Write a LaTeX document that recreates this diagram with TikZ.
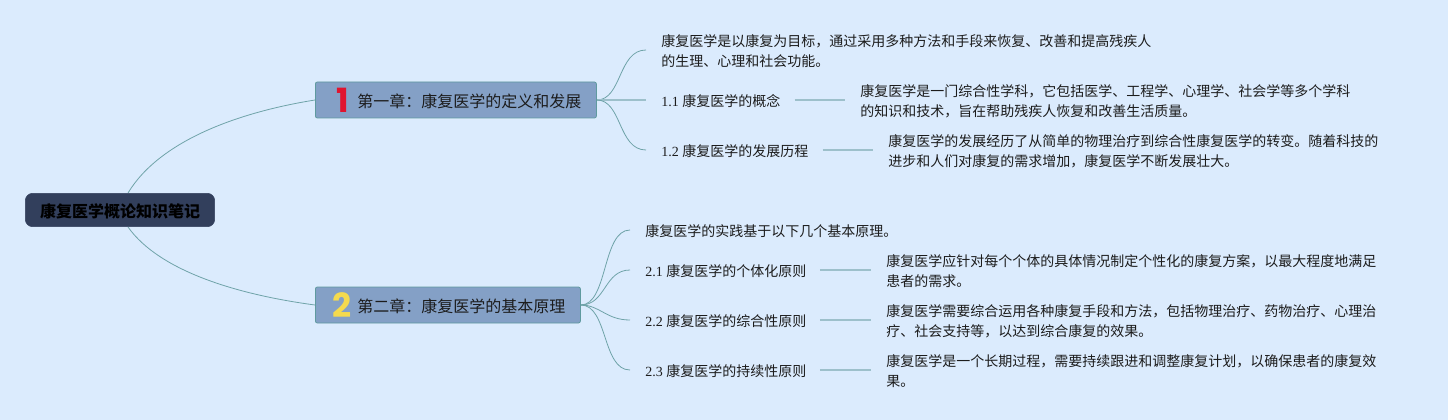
\documentclass[tikz,border=0pt]{standalone}
\usepackage{fontspec}
\setmainfont{Liberation Serif}
\newfontfamily\cj{Noto Sans CJK SC}
\newfontfamily\numfont{Poppins}
\definecolor{bgc}{HTML}{DBEBFD}
\definecolor{linkc}{HTML}{6FA3A8}
\definecolor{stemc}{HTML}{9DC0CB}
\definecolor{rootc}{HTML}{323F5C}
\definecolor{chapc}{HTML}{84A0C6}
\definecolor{chapb}{HTML}{5F9A9F}
\definecolor{txtc}{HTML}{1C1C1C}
\definecolor{onec}{HTML}{E0142F}
\definecolor{twoc}{HTML}{F5DA4E}
\tikzset{
  x=0.75pt,y=-0.75pt,
  rootbox/.style={fill=rootc,draw=rootc,rounded corners=5.5pt,minimum width=142pt,minimum height=25pt,inner sep=0pt},
  chapbox/.style={fill=chapc,draw=chapb,line width=0.6pt,rounded corners=1.5pt,minimum height=27pt,inner sep=0pt,anchor=west},
  chaptext/.style={anchor=west,inner sep=0pt,font=\fontsize{12}{15}\selectfont\cj,text=txtc},
  leaf/.style={anchor=west,inner ysep=0pt,inner xsep=11.25pt,align=left,text=txtc,font=\fontsize{10.5}{15}\selectfont},
  link/.style={draw=linkc,line width=0.6pt},
  stem/.style={draw=stemc,line width=1.1pt},
  numtag/.style={font=\fontsize{25}{25}\selectfont\numfont\bfseries,inner sep=0pt},
}
\begin{document}
\begin{tikzpicture}
\useasboundingbox[fill=bgc] (0,0) rectangle (1448,420);
% root and chapters
\node[rootbox] (root) at (120,210) {};
\node[inner sep=0pt,font=\fontsize{12}{15}\selectfont\cj\bfseries,text=black] (roott) at (120,211) {康复医学概论知识笔记};
\node[chapbox,minimum width=210.75pt] (c1) at (315,100) {};
\node[chapbox,minimum width=198.75pt] (c2) at (315,305) {};
\node[chaptext] (c1t) at (357,101) {第一章：康复医学的定义和发展};
\node[chaptext] (c2t) at (357,306) {第二章：康复医学的基本原理};
\node[numtag,text=onec] (n1) at (343,100) {1};
\node[numtag,text=twoc] (n2) at (342,305.5) {2};
\coordinate (r1) at (128,193);
\coordinate (r2) at (128,227);
% chapter 1 children
\node[leaf] (a0) at (646,51) {\cj 康复医学是以康复为目标，通过采用多种方法和手段来恢复、改善和提高残疾人\\\cj 的生理、心理和社会功能。};
\node[leaf] (a1) at (646,101) {1.1 {\cj 康复医学的概念}};
\node[leaf] (a2) at (646,151) {1.2 {\cj 康复医学的发展历程}};
\node[leaf] (a1d) at (845,101) {\cj 康复医学是一门综合性学科，它包括医学、工程学、心理学、社会学等多个学科\\\cj 的知识和技术，旨在帮助残疾人恢复和改善生活质量。};
\node[leaf] (a2d) at (873,151) {\cj 康复医学的发展经历了从简单的物理治疗到综合性康复医学的转变。随着科技的\\\cj 进步和人们对康复的需求增加，康复医学不断发展壮大。};
% chapter 2 children
\node[leaf] (b0) at (630,231) {\cj 康复医学的实践基于以下几个基本原理。};
\node[leaf] (b1) at (630,271) {2.1 {\cj 康复医学的个体化原则}};
\node[leaf] (b2) at (630,321) {2.2 {\cj 康复医学的综合性原则}};
\node[leaf] (b3) at (630,371) {2.3 {\cj 康复医学的持续性原则}};
\node[leaf] (b1d) at (871,271) {\cj 康复医学应针对每个个体的具体情况制定个性化的康复方案，以最大程度地满足\\\cj 患者的需求。};
\node[leaf] (b2d) at (871,321) {\cj 康复医学需要综合运用各种康复手段和方法，包括物理治疗、药物治疗、心理治\\\cj 疗、社会支持等，以达到综合康复的效果。};
\node[leaf] (b3d) at (871,371) {\cj 康复医学是一个长期过程，需要持续跟进和调整康复计划，以确保患者的康复效\\\cj 果。};
% connectors
\draw[link] (r1) .. controls (160,140) and (240,112) .. (c1.west);
\draw[link] (r2) .. controls (160,272) and (240,295) .. (c2.west);
\draw[link] (c1.east) .. controls (622,100) and (618,50) .. ([yshift=.75pt]a0.west);
\draw[stem] (c1.east) -- ([yshift=.75pt]a1.west);
\draw[link] (c1.east) .. controls (622,100) and (618,150) .. ([yshift=.75pt]a2.west);
\draw[stem] ([shift={(-.75pt,.75pt)}]a1.east) -- ([yshift=.75pt]a1d.west);
\draw[stem] ([shift={(-.75pt,.75pt)}]a2.east) -- ([yshift=.75pt]a2d.west);
\draw[link] (c2.east) .. controls (608,305) and (602,230) .. ([yshift=.75pt]b0.west);
\draw[link] (c2.east) .. controls (606,305) and (604,270) .. ([yshift=.75pt]b1.west);
\draw[link] (c2.east) .. controls (600,305) and (606,320) .. ([yshift=.75pt]b2.west);
\draw[link] (c2.east) .. controls (608,305) and (602,370) .. ([yshift=.75pt]b3.west);
\draw[stem] ([shift={(-1.25pt,.75pt)}]b1.east) -- ([yshift=.75pt]b1d.west);
\draw[stem] ([shift={(-1.25pt,.75pt)}]b2.east) -- ([yshift=.75pt]b2d.west);
\draw[stem] ([shift={(-1.25pt,.75pt)}]b3.east) -- ([yshift=.75pt]b3d.west);
\end{tikzpicture}
\end{document}
